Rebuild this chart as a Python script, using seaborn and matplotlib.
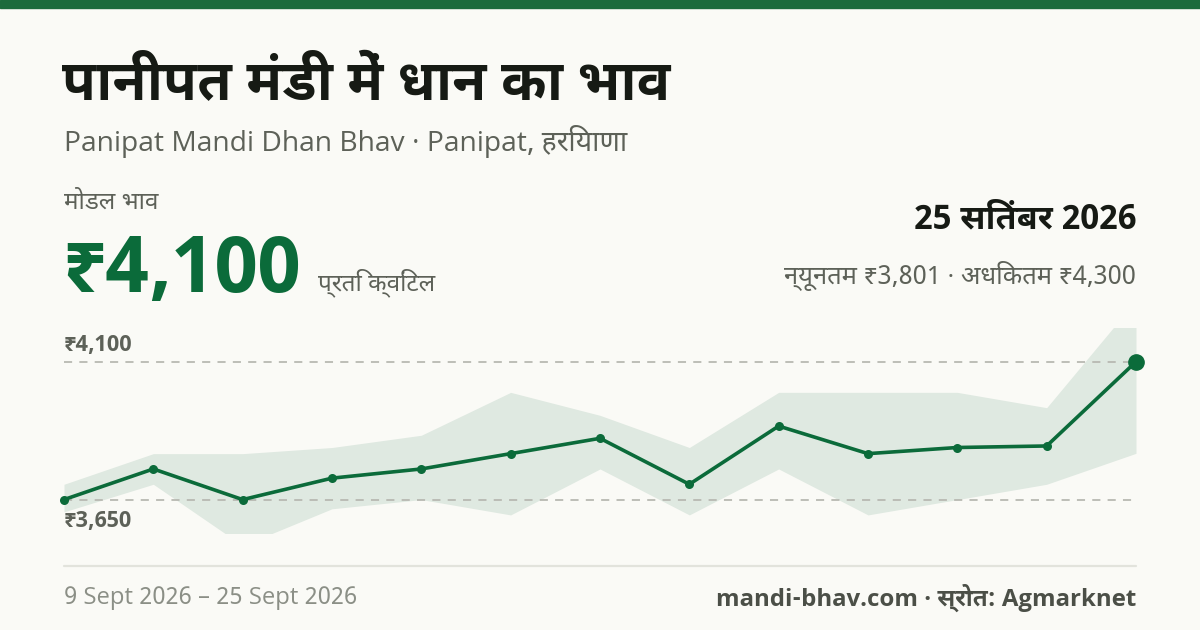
import matplotlib
matplotlib.use("Agg")
import matplotlib.pyplot as plt
import seaborn as sns
import pandas as pd

# data (13 trading days, 9 Sept - 25 Sept 2026)
day_index = list(range(13))
modal_price = [3650, 3750, 3650, 3720, 3750, 3800, 3850, 3700, 3890, 3800, 3820, 3825, 4100]
max_price = [3700, 3800, 3800, 3820, 3860, 4000, 3925, 3820, 4000, 4000, 4000, 3950, 4300]
min_price = [3610, 3700, 3500, 3620, 3650, 3600, 3750, 3600, 3750, 3600, 3650, 3700, 3801]
ref_levels = [4100, 3650]
ref_labels = ["₹4,100", "₹3,650"]

title = "पानीपत मंडी में धान का भाव"
subtitle = "Panipat Mandi Dhan Bhav · Panipat, हरियाणा"
kpi_label = "मोडल भाव"
kpi_value = "₹4,100"
kpi_unit = "प्रति क्विंटल"
date_text = "25 सितंबर 2026"
range_text = "न्यूनतम ₹3,801 · अधिकतम ₹4,300"
footer_left = "9 Sept 2026 – 25 Sept 2026"
footer_right = "mandi-bhav.com · स्रोत: Agmarknet"

GREEN = "#0b6b3a"
BAND = "#dfe9e1"
BG = "#fafaf6"
DARK = "#161a14"
GREY = "#5d6158"

df = pd.DataFrame({"day": day_index, "modal": modal_price, "low": min_price, "high": max_price})

sns.set_style("white")
FONT = ["Noto Sans Devanagari UI", "Open Sans", "Noto Sans", "DejaVu Sans"]
plt.rcParams["font.family"] = FONT

W, H = 1200, 630
fig = plt.figure(figsize=(12, 6.3), dpi=100, facecolor=BG)


def px(x, y):
    return x / W, 1 - y / H


def put(x, y, s, **kw):
    fx, fy = px(x, y)
    fig.text(fx, fy, s, **kw)


# top bar
fig.patches.append(plt.Rectangle((0, 1 - 8 / H), 1, 8 / H, transform=fig.transFigure,
                                 color="#1b6b3c", zorder=5))

# chart area
l, r, t, b = 64, 1136, 328, 533
ax = fig.add_axes([l / W, 1 - b / H, (r - l) / W, (b - t) / H])
ax.set_facecolor(BG)
ax.fill_between(df["day"], df["low"], df["high"], color=BAND, lw=0, zorder=1)
for lvl in ref_levels:
    ax.axhline(lvl, color="#b8b9b2", lw=1.3, ls=(0, (4.5, 4)), zorder=2)
sns.lineplot(data=df, x="day", y="modal", ax=ax, color=GREEN, lw=2.6, marker="o",
             markersize=6.5, markeredgewidth=0, zorder=4, clip_on=False)
ax.plot(df["day"].iloc[-1], df["modal"].iloc[-1], "o", color=GREEN, ms=11, zorder=5, clip_on=False)
ax.set_xlim(0, 12)
ax.set_ylim(3541, 4210)
ax.set_xticks([])
ax.set_yticks([])
ax.set_xlabel("")
ax.set_ylabel("")
sns.despine(ax=ax, left=True, bottom=True)

# level labels
put(64, 345, ref_labels[0], fontsize=16, weight="bold", color=GREY, va="center")
put(64, 521, ref_labels[1], fontsize=16, weight="bold", color=GREY, va="center")

# header texts
put(62, 86, title, fontsize=40, weight="bold", color=DARK, va="center")
put(64, 142, subtitle, fontsize=20.3, color=GREY, va="center")
put(64, 203, kpi_label, fontsize=17.5, color=GREY, va="center")
put(62, 292, kpi_value, fontsize=56, weight="bold", color=GREEN, va="baseline")
put(318, 290, kpi_unit, fontsize=17.5, color=GREY, va="baseline")
put(1136, 219, date_text, fontsize=24.5, weight="bold", color=DARK, va="center", ha="right")
put(1136, 276, range_text, fontsize=18.4, color=GREY, va="center", ha="right")

# footer
fig.add_artist(plt.Line2D([64 / W, 1136 / W], [1 - 566 / H] * 2, transform=fig.transFigure,
                          color="#e2e3dc", lw=1.6))
put(64, 598, footer_left, fontsize=17.2, color="#8b8f86", va="center")
put(1136, 598, footer_right, fontsize=17.3, weight="bold", color="#4b4f47", va="center", ha="right")

fig.savefig("out.png", dpi=100, facecolor=BG)
